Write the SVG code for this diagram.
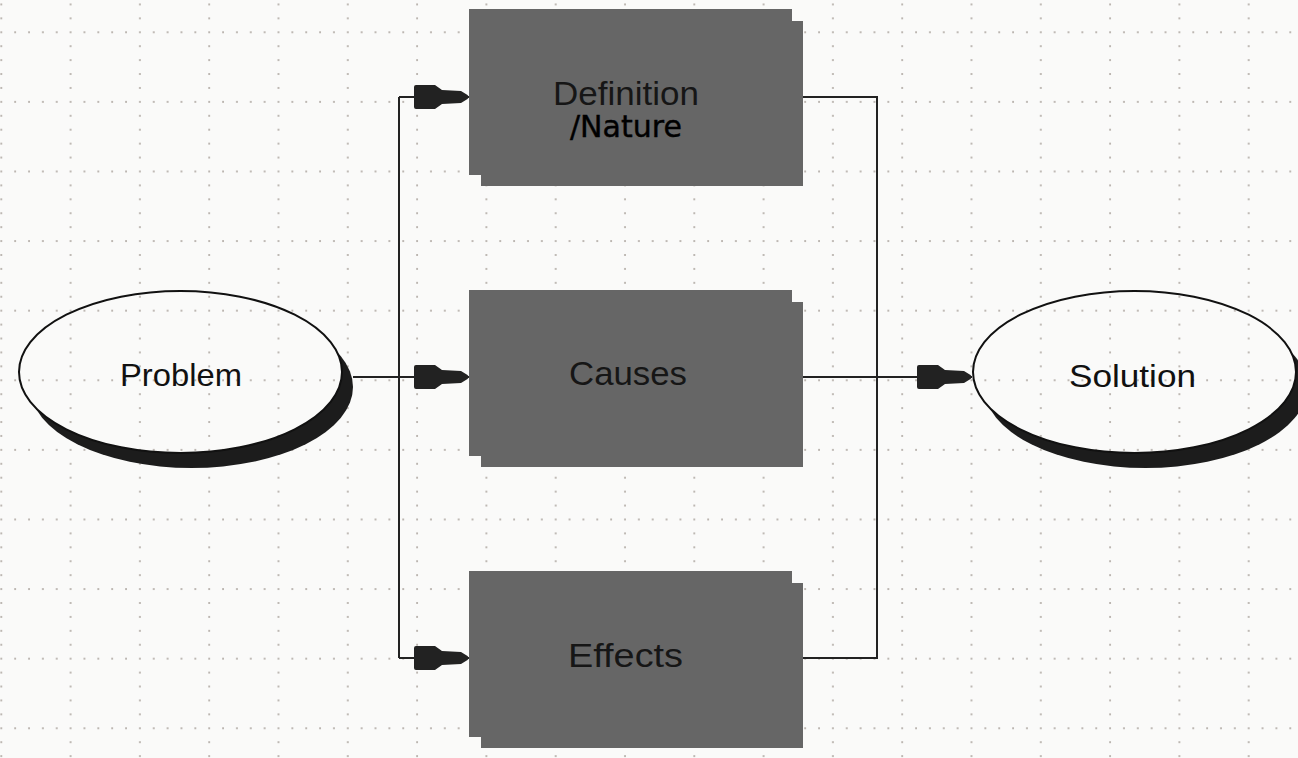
<svg xmlns="http://www.w3.org/2000/svg" width="1298" height="758" viewBox="0 0 1298 758">
  <style>
    .box { fill: #666666; }
    .boxtext { font-family: "Liberation Sans", Arial, sans-serif; font-size: 34px; fill: #161616; text-anchor: middle; }
    .ovaltext { font-family: "Liberation Sans", Arial, sans-serif; font-size: 32px; fill: #111111; text-anchor: middle; }
    .bgfill { fill: #fafaf9; }
    .outline { fill: url(#grid); stroke: #111111; stroke-width: 2; }
    .shadow { fill: #1c1c1c; }
    .conn { fill: none; stroke: #222222; stroke-width: 2; }
    .arrow { marker-end: url(#plug); }
  </style>
  <defs>
    <pattern id="grid" patternUnits="userSpaceOnUse" x="-3.7" y="27.3" width="69.3" height="69.6">
      <g fill="#a39b94">
        <circle cx="5" cy="5" r="0.9"/>
        <circle cx="18.86" cy="5" r="0.9"/>
        <circle cx="32.72" cy="5" r="0.9"/>
        <circle cx="46.58" cy="5" r="0.9"/>
        <circle cx="60.44" cy="5" r="0.9"/>
        <circle cx="5" cy="18.92" r="0.9"/>
        <circle cx="5" cy="32.84" r="0.9"/>
        <circle cx="5" cy="46.76" r="0.9"/>
        <circle cx="5" cy="60.68" r="0.9"/>
      </g>
    </pattern>
    <marker id="plug" markerUnits="userSpaceOnUse" viewBox="-56 -15 60 30" markerWidth="60" markerHeight="30" refX="0" refY="0" orient="auto" overflow="visible">
      <path d="M-55,-10 Q-55,-12 -53,-12 L-34,-12 L-27,-7 L-8,-6 L-1.5,-2 L0,0 L-1.5,2 L-8,6 L-27,7 L-34,12 L-53,12 Q-55,12 -55,10 Z" fill="#222222"/>
    </marker>
  </defs>

  <rect class="bgfill" width="1298" height="758"/>
  <rect width="1298" height="758" fill="url(#grid)"/>

  <g id="connectors">
    <path class="conn" d="M399,97 V658"/>
    <path class="conn arrow" d="M399,97 H469"/>
    <path class="conn arrow" d="M353,377 H469"/>
    <path class="conn arrow" d="M399,658 H469"/>
    <path class="conn" d="M803,97 H877 V658 H803"/>
    <path class="conn arrow" d="M803,377 H972"/>
  </g>

  <g id="problem">
    <ellipse class="shadow" cx="191.5" cy="387" rx="161.5" ry="81"/>
    <ellipse class="bgfill" cx="180.5" cy="372" rx="161.5" ry="81"/>
    <ellipse class="outline" cx="180.5" cy="372" rx="161.5" ry="81"/>
    <text class="ovaltext" x="181" y="386" textLength="122" lengthAdjust="spacingAndGlyphs">Problem</text>
  </g>

  <g id="definition">
    <path class="box" d="M469,9 H792 V21 H803 V186 H481 V175 H469 Z"/>
    <text class="boxtext" x="626" y="105" textLength="146" lengthAdjust="spacingAndGlyphs" fill="#1e1e1e">Definition</text>
    <text x="626" y="136.7" font-family="'DejaVu Sans', sans-serif" font-size="30" fill="#000000" stroke="#000000" stroke-width="0.4" text-anchor="middle" textLength="112" lengthAdjust="spacingAndGlyphs">/Nature</text>
  </g>

  <g id="causes">
    <path class="box" d="M469,290 H792 V302 H803 V467 H481 V456 H469 Z"/>
    <text class="boxtext" x="628" y="385" textLength="118" lengthAdjust="spacingAndGlyphs">Causes</text>
  </g>

  <g id="effects">
    <path class="box" d="M469,571 H792 V583 H803 V748 H481 V737 H469 Z"/>
    <text class="boxtext" x="625.5" y="667" textLength="115" lengthAdjust="spacingAndGlyphs">Effects</text>
  </g>

  <g id="solution">
    <ellipse class="shadow" cx="1145.5" cy="387" rx="161.5" ry="81"/>
    <ellipse class="bgfill" cx="1134.5" cy="372" rx="161.5" ry="81"/>
    <ellipse class="outline" cx="1134.5" cy="372" rx="161.5" ry="81"/>
    <text class="ovaltext" x="1132.5" y="386.5" textLength="127" lengthAdjust="spacingAndGlyphs">Solution</text>
  </g>
</svg>
